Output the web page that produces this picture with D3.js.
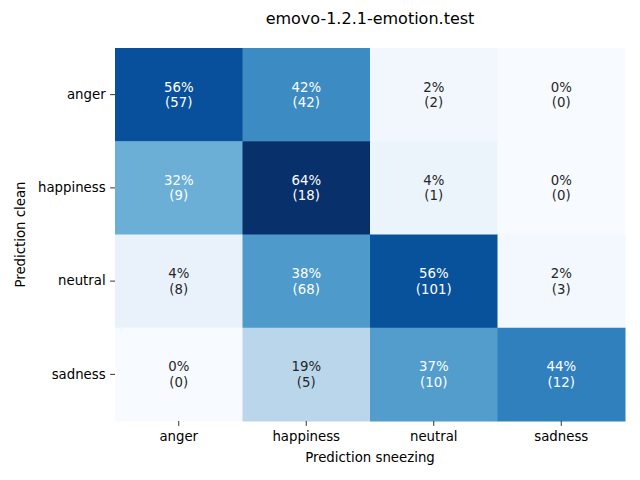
<!DOCTYPE html>
<html><head><meta charset="utf-8">
<script src="https://cdn.jsdelivr.net/npm/d3@7"></script>
<style>body{margin:0;background:#fff}text{font-family:"DejaVu Sans",sans-serif}</style>
</head><body>
<svg id="c" width="640" height="480"></svg>
<script>
const title = "emovo-1.2.1-emotion.test";
const rowLabels = ["anger", "happiness", "neutral", "sadness"];
const colLabels = ["anger", "happiness", "neutral", "sadness"];
const counts = [
  [57, 42, 2, 0],
  [9, 18, 1, 0],
  [8, 68, 101, 3],
  [0, 5, 10, 12]
];
const xTitle = "Prediction sneezing";
const yTitle = "Prediction clean";

const svg = d3.select("#c");
const L = 115, R = 625, T = 48, B = 421;
const x = d3.scaleBand().domain(colLabels).range([L, R]);
const y = d3.scaleBand().domain(rowLabels).range([T, B]);

const frac = counts.map(r => { const s = d3.sum(r); return r.map(v => s ? v / s : 0); });
const vmax = d3.max(frac.flat());
const blues = ["#f7fbff","#deebf7","#c6dbef","#9ecae1","#6baed6","#4292c6","#2171b5","#08519c","#08306b"];
const cmap = d3.scaleLinear().domain(blues.map((_, i) => i / 8)).range(blues).interpolate(d3.interpolateRgb);
const color = v => cmap(v / vmax);
function lum(c) {
  const rgb = d3.rgb(c);
  const f = v => { v /= 255; return v <= 0.03928 ? v / 12.92 : Math.pow((v + 0.055) / 1.055, 2.4); };
  return 0.2126 * f(rgb.r) + 0.7152 * f(rgb.g) + 0.0722 * f(rgb.b);
}

const cells = [];
rowLabels.forEach((r, i) => colLabels.forEach((c, j) => cells.push({r, c, n: counts[i][j], f: frac[i][j]})));

svg.append("g").selectAll("rect").data(cells).join("rect")
  .attr("x", d => x(d.c)).attr("y", d => y(d.r))
  .attr("width", x.bandwidth() + 0.5).attr("height", y.bandwidth() + 0.5)
  .attr("fill", d => color(d.f));

const lab = svg.append("g").selectAll("text").data(cells).join("text")
  .attr("text-anchor", "middle").attr("font-size", "13.3px")
  .attr("fill", d => lum(color(d.f)) > 0.408 ? "#262626" : "#ffffff");
lab.append("tspan").attr("x", d => x(d.c) + x.bandwidth() / 2).attr("y", d => y(d.r) + y.bandwidth() / 2 - 3)
  .text(d => Math.round(d.f * 100) + "%");
lab.append("tspan").attr("x", d => x(d.c) + x.bandwidth() / 2).attr("y", d => y(d.r) + y.bandwidth() / 2 + 12.5)
  .text(d => "(" + d.n + ")");

const xa = svg.append("g").attr("transform", `translate(0,${B})`)
  .call(d3.axisBottom(x).tickSize(4.9).tickPadding(6));
xa.select(".domain").remove();
xa.selectAll("text").attr("font-size", "13.3px").attr("fill", "#000").attr("font-family", "DejaVu Sans");
xa.selectAll("line").attr("stroke", "#000").attr("stroke-width", 0.8);

const ya = svg.append("g").attr("transform", `translate(${L},0)`)
  .call(d3.axisLeft(y).tickSize(4.9).tickPadding(4.5));
ya.select(".domain").remove();
ya.selectAll("text").attr("font-size", "13.3px").attr("fill", "#000").attr("font-family", "DejaVu Sans");
ya.selectAll("line").attr("stroke", "#000").attr("stroke-width", 0.8);

svg.append("text").attr("x", (L + R) / 2).attr("y", 24).attr("text-anchor", "middle")
  .attr("font-size", "16px").text(title);
svg.append("text").attr("x", (L + R) / 2).attr("y", 462).attr("text-anchor", "middle")
  .attr("font-size", "13.3px").text(xTitle);
svg.append("text").attr("transform", `translate(25,${(T + B) / 2}) rotate(-90)`).attr("text-anchor", "middle")
  .attr("font-size", "13.3px").text(yTitle);
</script>
</body></html>
